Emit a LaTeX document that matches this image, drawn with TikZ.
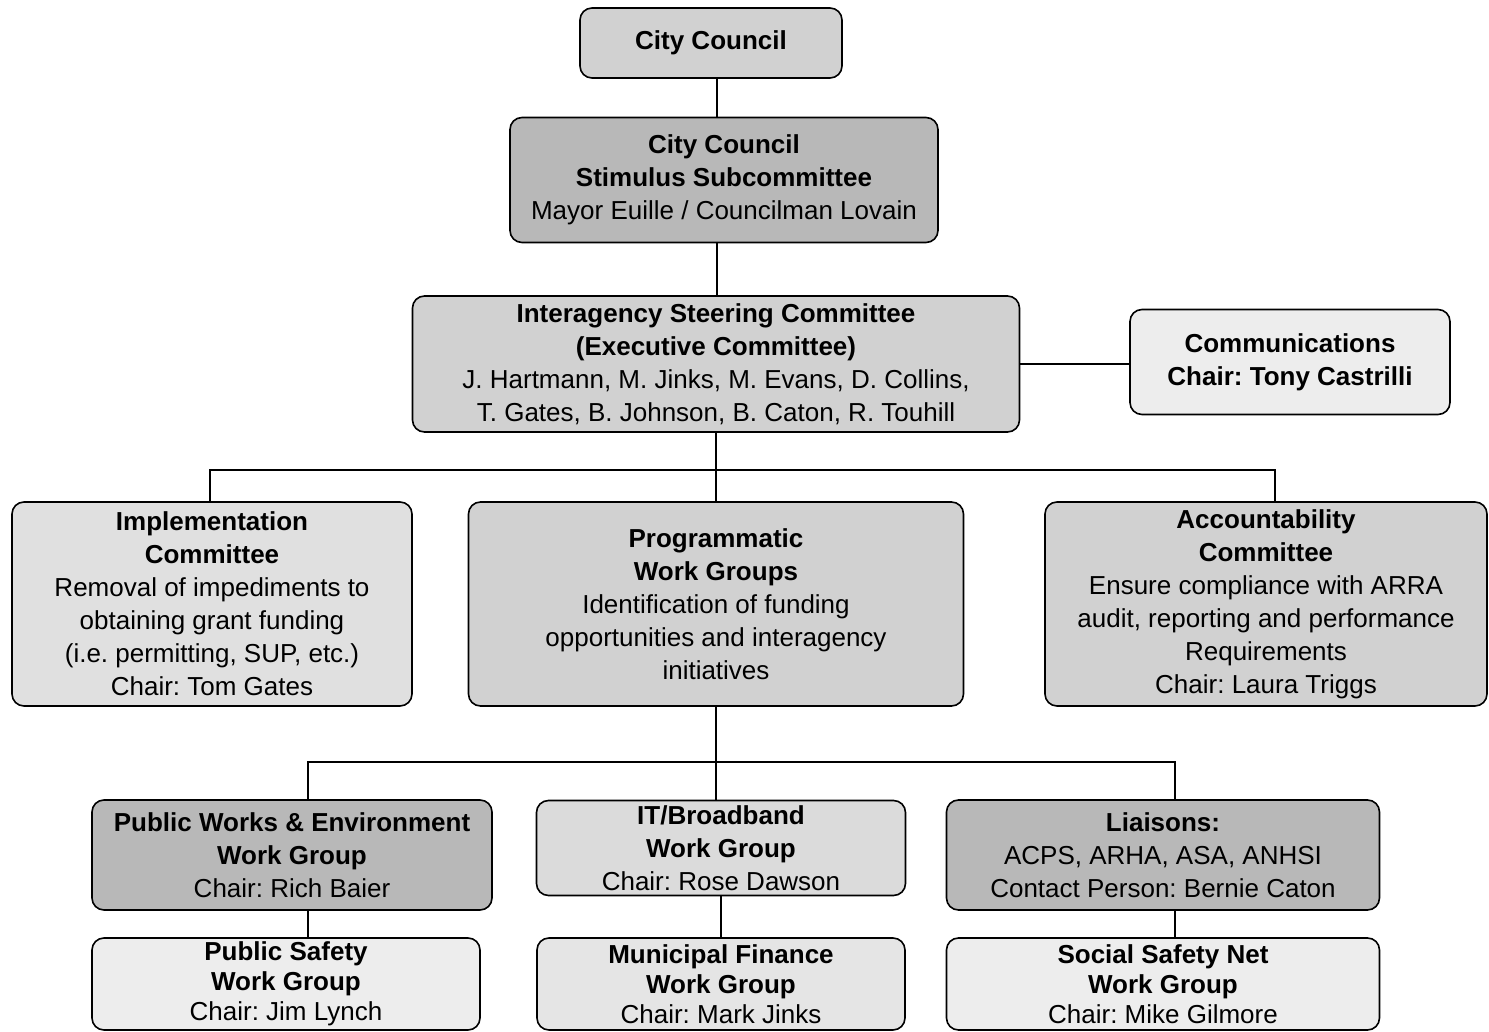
\documentclass[tikz,border=0pt]{standalone}
\usepackage{fontspec}
\setmainfont{Liberation Sans}
\usepackage{tikz}
\frenchspacing

\begin{document}
\begin{tikzpicture}[x=0.5pt, y=-0.5pt, line width=0.8pt]
      \tikzstyle{box}=[draw=black, rounded corners=6pt, align=center, inner sep=1pt, font=\fontsize{13}{16.5}\selectfont]
      \tikzstyle{dark box}=[box, fill=black!28];
      \tikzstyle{mid box}=[box, fill=black!18];
      \tikzstyle{light box}=[box, fill=black!7];
      \tikzstyle{low box}=[light box, inner sep=0pt, minimum height=46pt, font=\fontsize{13}{15}\selectfont];

      \useasboundingbox (0,0) rectangle (1489,1032);

      % top of the chart
      \node[mid box, minimum width=131pt, minimum height=35pt] (cc) at (711, 43) {\textbf{City Council}};
      \node[dark box, minimum width=214pt, minimum height=62.5pt] (sub) at (724, 180) {\textbf{City Council}\\\textbf{Stimulus Subcommittee}\\Mayor Euille / Councilman Lovain};
      \node[mid box, minimum width=303.5pt, minimum height=68pt] (isc) at (716, 364) {\textbf{Interagency Steering Committee}\\\textbf{(Executive Committee)}\\J. Hartmann, M. Jinks, M. Evans, D. Collins,\\T. Gates, B. Johnson, B. Caton, R. Touhill};
      \node[light box, minimum width=160pt, minimum height=52.5pt] (comm) at (1290, 362) {\textbf{Communications}\\\textbf{Chair: Tony Castrilli}};

      % committees
      \node[light box, fill=black!12, minimum width=200pt, minimum height=102pt] (impl) at (212, 604) {\textbf{Implementation}\\\textbf{Committee}\\Removal of impediments to\\obtaining grant funding\\(i.e. permitting, SUP, etc.)\\Chair: Tom Gates};
      \node[mid box, minimum width=247.5pt, minimum height=102pt] (prog) at (716, 604) {\textbf{Programmatic}\\\textbf{Work Groups}\\Identification of funding\\opportunities and interagency\\initiatives};
      \node[mid box, minimum width=221pt, minimum height=102pt] (acct) at (1266, 604) {\textbf{Accountability}\\\textbf{Committee}\\Ensure compliance with ARRA\\audit, reporting and performance\\Requirements\\Chair: Laura Triggs};

      % work groups
      \node[dark box, minimum width=200pt, minimum height=55pt] (pwe) at (292, 855) {\textbf{Public Works \& Environment}\\\textbf{Work Group}\\Chair: Rich Baier};
      \node[light box, fill=black!14, minimum width=184.5pt, minimum height=47.5pt] (itb) at (721, 848) {\textbf{IT/Broadband}\\\textbf{Work Group}\\Chair: Rose Dawson};
      \node[dark box, minimum width=216.5pt, minimum height=55pt] (liai) at (1163, 855) {\textbf{Liaisons:}\\ACPS, ARHA, ASA, ANHSI\\Contact Person: Bernie Caton};
      \node[low box, minimum width=194pt] (psafe) at (286, 984) {\textbf{Public Safety}\\\textbf{Work Group}\\Chair: Jim Lynch};
      \node[low box, fill=black!10, minimum width=184pt] (mfin) at (721, 984) {\textbf{Municipal Finance}\\\textbf{Work Group}\\Chair: Mark Jinks};
      \node[low box, minimum width=216.5pt] (ssn) at (1163, 984) {\textbf{Social Safety Net}\\\textbf{Work Group}\\Chair: Mike Gilmore};

      \coordinate (busa) at (716, 470);
      \coordinate (busl) at (210, 470);
      \coordinate (busr) at (1275, 470);
      \coordinate (busb) at (716, 762);
      \coordinate (bbl) at (308, 762);
      \coordinate (bbr) at (1175, 762);

      \draw (cc.south -| 717,0) -- (sub.north -| 717,0);
      \draw (sub.south -| 717,0) -- (isc.north -| 717,0);
      \draw (isc.east) -- (isc.east -| comm.west);
      \draw (isc.south) -- (busa) -- (prog.north);
      \draw (busl |- impl.north) -- (busl) -- (busr) -- (busr |- acct.north);
      \draw (prog.south) -- (busb) -- (busb |- itb.north);
      \draw (bbl |- pwe.north) -- (bbl) -- (bbr) -- (bbr |- liai.north);
      \draw (bbl |- pwe.south) -- (bbl |- psafe.north);
      \draw (itb.south) -- (itb.south |- mfin.north);
      \draw (bbr |- liai.south) -- (bbr |- ssn.north);
\end{tikzpicture}
\end{document}
